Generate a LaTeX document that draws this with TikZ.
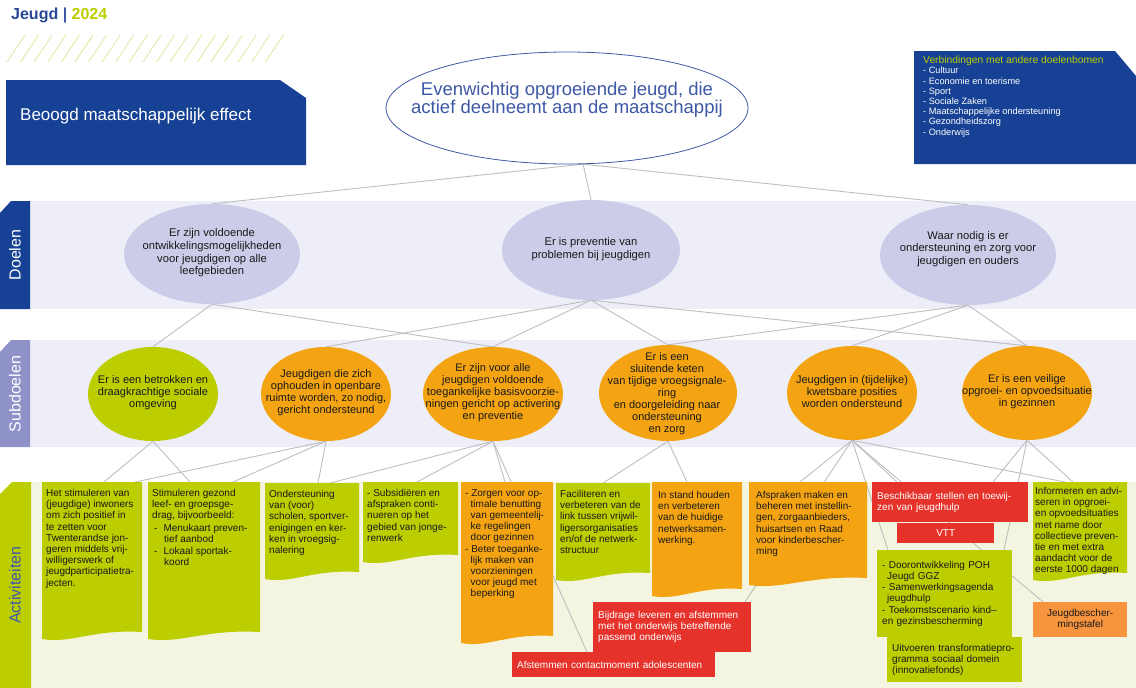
\documentclass[tikz,border=0pt]{standalone}
\usepackage{fontspec}
\setmainfont{Liberation Sans}
\usetikzlibrary{shapes.geometric}
\definecolor{jgblue}{RGB}{22,65,148}
\definecolor{jeugdblue}{RGB}{40,72,150}
\definecolor{topblue}{RGB}{62,88,165}
\definecolor{jglime}{RGB}{188,206,0}
\definecolor{jgorange}{RGB}{244,164,18}
\definecolor{jgred}{RGB}{229,51,43}
\definecolor{jgtafel}{RGB}{247,148,62}
\definecolor{doelfill}{RGB}{203,205,232}
\definecolor{bandlila}{RGB}{237,238,248}
\definecolor{bandlime}{RGB}{243,245,224}
\definecolor{subtab}{RGB}{142,146,200}
\definecolor{linegray}{RGB}{190,190,190}
\definecolor{hatchlime}{RGB}{228,234,170}

\pgfdeclarelayer{bands}
\pgfdeclarelayer{edges}
\pgfsetlayers{bands,edges,main}

% box with a wavy lower edge: x, y, width, height, colour
\newcommand{\docfill}[5]{%
  \fill[#5] (#1,#2) -- ++(#3,0) -- ++(0,#4)
    .. controls +({-0.5*#3},-3) and +({0.3*#3},5) .. ++({-#3},7) -- cycle;}

\begin{document}
\begin{tikzpicture}[x=1pt, y=-1pt,
  doel/.style={ellipse, fill=doelfill, inner sep=0pt, minimum width=176pt, minimum height=100pt},
  subdoel/.style={ellipse, inner sep=0pt, minimum width=130pt, minimum height=94pt},
  doeltext/.style={align=center, inner sep=0pt, text=black!90, font=\fontsize{11.2}{12.6}\selectfont},
  subtext/.style={align=center, inner sep=0pt, text=black!90, font=\fontsize{11}{12}\selectfont},
  acttext/.style={anchor=north west, align=left, inner xsep=4pt, inner ysep=7pt, text=black!90, font=\fontsize{10}{11.2}\selectfont},
  actbox/.style={rectangle, anchor=north west, inner xsep=5pt, inner ysep=2pt, align=left, text=black!90, font=\fontsize{10}{11.2}\selectfont},
  tabtext/.style={rotate=90, inner sep=0pt, font=\fontsize{16}{16}\selectfont},
  link/.style={draw=linegray, line width=0.9pt}]
\useasboundingbox (0,0) rectangle (1136,688);

% bands
\begin{pgfonlayer}{bands}
\fill[bandlila] (30,201) rectangle (1136,309);
\fill[bandlila] (30,340) rectangle (1136,447);
\fill[bandlime] (31,482) rectangle (1136,688);
\end{pgfonlayer}

% header
\node[anchor=west, inner sep=0pt, font=\bfseries\fontsize{16}{16}\selectfont] (titel) at (11,15)
  {\textcolor{jeugdblue}{Jeugd} \textcolor{topblue}{|} \textcolor{jglime}{2024}};
\foreach \i in {0,...,19}
  \draw[hatchlime, line width=1pt] ({7+13.6*\i},62) -- ++(18,-27);

\fill[jgblue] (6,80) -- (280,80) -- (306,98) -- (306,165) -- (6,165) -- cycle;
\node[anchor=west, inner sep=0pt, text=white, font=\fontsize{17}{17}\selectfont] (effect) at (20,116) {Beoogd maatschappelijk effect};

\fill[jgblue] (914,51) -- (1115,51) -- (1136,76) -- (1136,164) -- (914,164) -- cycle;
\node[anchor=north west, align=left, inner sep=0pt, text=white, font=\fontsize{9.2}{10.2}\selectfont] (verbindingen) at (923,56)
  {{\color{jglime}\fontsize{10.3}{10.3}\selectfont Verbindingen met andere doelenbomen}\\- Cultuur\\- Economie en toerisme\\- Sport\\- Sociale Zaken\\- Maatschappelijke ondersteuning\\- Gezondheidszorg\\- Onderwijs};

% effect
\node[ellipse, draw=topblue, line width=0.8pt, fill=white, minimum width=362pt, minimum height=112pt] (top) at (567,108) {};
\node[align=center, inner sep=0pt, text=topblue, font=\fontsize{18.5}{18}\selectfont] (toptext) at (567,100)
  {Evenwichtig opgroeiende jeugd, die\\actief deelneemt aan de maatschappij};

% tabs
\fill[jgblue] (0,213) -- (11,201) -- (30,201) -- (30,309) -- (0,309) -- cycle;
\node[tabtext, text=white] (doelen) at (15,255) {Doelen};
\fill[subtab] (0,352) -- (11,340) -- (30,340) -- (30,447) -- (0,447) -- cycle;
\node[tabtext, text=white] (subdoelen) at (15,394) {Subdoelen};
\fill[jglime] (0,494) -- (12,482) -- (31,482) -- (31,688) -- (0,688) -- cycle;
\node[tabtext, text=topblue] (activiteiten) at (15,585) {Activiteiten};

% doelen
\node[doel] (d1) at (212,254) {};
\node[doeltext] (d1t) at (212,253) {Er zijn voldoende\\ontwikkelingsmogelijkheden\\voor jeugdigen op alle\\leefgebieden};
\node[doel, minimum width=178pt] (d2) at (591,250) {};
\node[doeltext] (d2t) at (591,249) {Er is preventie van\\problemen bij jeugdigen};
\node[doel] (d3) at (968,255) {};
\node[doeltext] (d3t) at (968,249) {Waar nodig is er\\ondersteuning en zorg voor\\jeugdigen en ouders};

% subdoelen
\node[subdoel, fill=jglime] (s1) at (153,394) {};
\node[subtext] (s1t) at (153,393) {Er is een betrokken en\\draagkrachtige sociale\\omgeving};
\node[subdoel, fill=jgorange] (s2) at (326,394) {};
\node[subtext] (s2t) at (326,393) {Jeugdigen die zich\\ophouden in openbare\\ruimte worden, zo nodig,\\gericht ondersteund};
\node[subdoel, fill=jgorange, minimum width=140pt] (s3) at (493,394) {};
\node[subtext] (s3t) at (493,393) {Er zijn voor alle\\jeugdigen voldoende\\toegankelijke basisvoorzie-\\ningen gericht op activering\\en preventie};
\node[subdoel, fill=jgorange, minimum width=138pt, minimum height=96pt] (s4) at (668,393) {};
\node[subtext] (s4t) at (667,394) {Er is een\\sluitende keten\\van tijdige vroegsignale-\\ring\\en doorgeleiding naar\\ondersteuning\\en zorg};
\node[subdoel, fill=jgorange] (s5) at (852,393) {};
\node[subtext] (s5t) at (852,392) {Jeugdigen in (tijdelijke)\\kwetsbare posities\\worden ondersteund};
\node[subdoel, fill=jgorange] (s6) at (1027,393) {};
\node[subtext] (s6t) at (1027,392) {Er is een veilige\\opgroei- en opvoedsituatie\\in gezinnen};

% activiteiten
\docfill{42}{482}{100}{150}{jglime}
\node[acttext] (a1) at (42,482) {Het stimuleren van\\(jeugdige) inwoners\\om zich positief in\\te zetten voor\\Twenterandse jon-\\geren middels vrij-\\willigerswerk of\\jeugdparticipatietra-\\jecten.};
\docfill{148}{482}{112}{150}{jglime}
\node[acttext] (a2) at (148,482) {Stimuleren gezond\\leef- en groepsge-\\drag, bijvoorbeeld:\\[1pt]\hspace*{2pt}-\hspace*{6pt}Menukaart preven-\\\hspace*{12pt}tief aanbod\\[1pt]\hspace*{2pt}-\hspace*{6pt}Lokaal sportak-\\\hspace*{12pt}koord};
\docfill{265}{483}{94}{89}{jglime}
\node[acttext] (a3) at (265,483) {Ondersteuning\\van (voor)\\scholen, sportver-\\enigingen en ker-\\ken in vroegsig-\\nalering};
\docfill{363}{482}{95}{73}{jglime}
\node[acttext] (a4) at (363,482) {- Subsidiëren en\\afspraken conti-\\nueren op het\\gebied van jonge-\\renwerk};
\docfill{461}{482}{92}{154}{jgorange}
\node[acttext] (a5) at (461,482) {- Zorgen voor op-\\\hspace*{5.5pt}timale benutting\\\hspace*{5.5pt}van gemeentelij-\\\hspace*{5.5pt}ke regelingen\\\hspace*{5.5pt}door gezinnen\\- Beter toeganke-\\\hspace*{5.5pt}lijk maken van\\\hspace*{5.5pt}voorzieningen\\\hspace*{5.5pt}voor jeugd met\\\hspace*{5.5pt}beperking};
\docfill{556}{483}{94}{90}{jglime}
\node[acttext] (a6) at (556,483) {Faciliteren en\\verbeteren van de\\link tussen vrijwil-\\ligersorganisaties\\en/of de netwerk-\\structuur};
\docfill{652}{482}{90}{107}{jgorange}
\node[acttext, inner xsep=6pt, inner ysep=9pt] (a7) at (652,482) {In stand houden\\en verbeteren\\van de huidige\\netwerksamen-\\werking.};
\docfill{749}{482}{118}{96}{jgorange}
\node[acttext, inner xsep=7pt, inner ysep=9pt] (a10) at (749,482) {Afspraken maken en\\beheren met instellin-\\gen, zorgaanbieders,\\huisartsen en Raad\\voor kinderbescher-\\ming};
\docfill{1033}{482}{94}{91}{jglime}
\node[acttext, inner xsep=2pt, inner ysep=5pt] (a15) at (1033,482) {Informeren en advi-\\seren in opgroei-\\en opvoedsituaties\\met name door\\collectieve preven-\\tie en met extra\\aandacht voor de\\eerste 1000 dagen};

\node[actbox, fill=jgred, text=white, text width=148pt, minimum height=50pt] (a8) at (593,602) {Bijdrage leveren en afstemmen\\met het onderwijs betreffende\\passend onderwijs};
\node[actbox, fill=jgred, text=white, text width=193pt, minimum height=25pt] (a9) at (512,652) {Afstemmen contactmoment adolescenten};
\node[actbox, fill=jgred, text=white, text width=146pt, minimum height=40pt] (a11) at (872,482) {Beschikbaar stellen en toewij-\\zen van jeugdhulp};
\node[actbox, fill=jgred, text=white, align=center, text width=87pt, minimum height=20pt] (a12) at (897,523) {VTT};
\node[actbox, fill=jglime, text width=125pt, minimum height=87pt] (a13) at (877,550) {- Doorontwikkeling POH\\\hspace*{5pt}Jeugd GGZ\\- Samenwerkingsagenda\\\hspace*{5pt}jeugdhulp\\- Toekomstscenario kind–\\en gezinsbescherming};
\node[actbox, fill=jglime, text width=125pt, minimum height=45pt] (a14) at (887,637) {Uitvoeren transformatiepro-\\gramma sociaal domein\\(innovatiefonds)};
\node[actbox, fill=jgtafel, align=center, text width=84pt, minimum height=35pt] (a16) at (1033,602) {Jeugdbescher-\\mingstafel};

% connectors
\begin{pgfonlayer}{edges}
\foreach \d in {d1,d2,d3}
  \draw[link] (top.-74) -- (\d.north);
\foreach \d/\s in {d1/s1, d1/s3, d2/s2, d2/s3, d2/s4, d2/s6, d3/s4, d3/s5, d3/s6}
  \draw[link] (\d.south) -- (\s.north);
\foreach \s/\a/\dx in {s1/a1/62, s1/a2/42, s2/a1/93, s2/a2/85, s2/a3/53,
    s3/a3/65, s3/a4/54, s3/a5/44, s3/a9/75, s4/a6/47, s4/a7/35,
    s5/a8/152, s5/a10/51, s5/a11/25, s5/a13/11, s5/a15/32, s5/a16/10,
    s6/a11/121, s6/a13/127, s6/a15/40}
  \draw[link] (\s.south) -- ([xshift=\dx pt]\a.north west);
\end{pgfonlayer}
\end{tikzpicture}
\end{document}
